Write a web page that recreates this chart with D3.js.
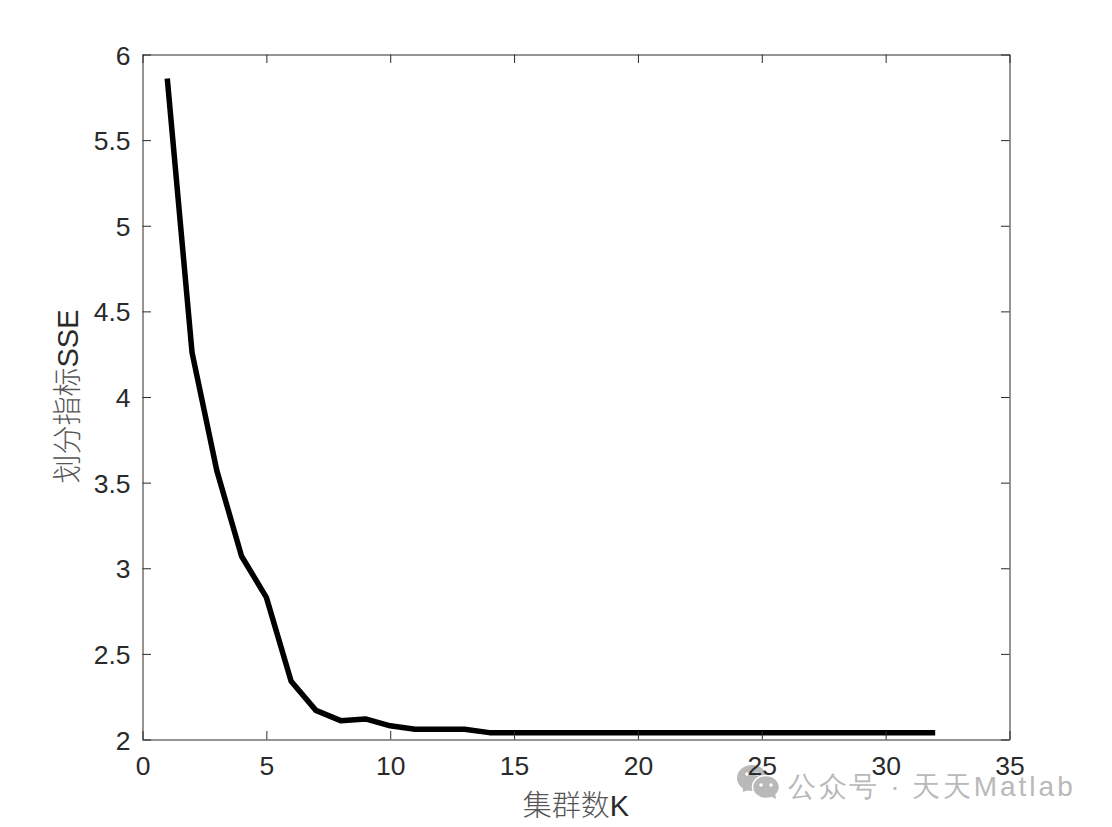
<!DOCTYPE html>
<html><head><meta charset="utf-8">
<script src="https://cdn.jsdelivr.net/npm/d3@7/dist/d3.min.js"></script>
<style>
html,body{margin:0;padding:0;background:#fff;overflow:hidden}
svg{display:block}
text{font-family:"Liberation Sans",Arial,sans-serif}
</style></head><body>
<svg id="c" width="1112" height="827"></svg>
<script>
const kValues = [1,2,3,4,5,6,7,8,9,10,11,12,13,14,15,16,17,18,19,20,21,22,23,24,25,26,27,28,29,30,31,32];
const sseValues = [5.86,4.26,3.57,3.07,2.83,2.34,2.17,2.11,2.12,2.08,2.06,2.06,2.06,2.04,2.04,2.04,2.04,2.04,2.04,2.04,2.04,2.04,2.04,2.04,2.04,2.04,2.04,2.04,2.04,2.04,2.04,2.04];
const xTicks = [0,5,10,15,20,25,30,35];
const yTicks = [2,2.5,3,3.5,4,4.5,5,5.5,6];
const xDomain = [0,35], yDomain = [2,6];
const xTitle = ["集群数","K"], yTitle = ["划分指标","SSE"];
const watermarkHead = "公众号 · 天天", watermarkTail = "Matlab";

const L=142.5,R=1009.5,T=54.5,B=739.5,INK="#2a2a2a",TL=8.5;
const svg=d3.select("#c");
const x=d3.scaleLinear().domain(xDomain).range([L,R]);
const y=d3.scaleLinear().domain(yDomain).range([B,T]);

// watermark (beneath the chart text)
const wm=svg.append("g").attr("fill","#b9b9b9");
const wt=wm.append("text").attr("x",788).attr("y",796).attr("font-size",28)
  .attr("font-family",'"Noto Sans CJK SC","Noto Sans",sans-serif');
wt.append("tspan").attr("letter-spacing",2.6).text(watermarkHead);
wt.append("tspan").attr("letter-spacing",3).text(watermarkTail);
wm.append("ellipse").attr("cx",752).attr("cy",778).attr("rx",15).attr("ry",13);
wm.append("path").attr("d","M743 787 L743 792 L751 789 Z");
wm.append("ellipse").attr("cx",766).attr("cy",787).attr("rx",13.5).attr("ry",11.5).attr("stroke","#fff").attr("stroke-width",1.5);
wm.append("path").attr("d","M770 796 L776 799 L775 792 Z");
[[761,785],[771,785]].forEach(p=>wm.append("circle").attr("cx",p[0]).attr("cy",p[1]).attr("r",1.7).attr("fill","#fff"));
[[747,774],[757,774]].forEach(p=>wm.append("circle").attr("cx",p[0]).attr("cy",p[1]).attr("r",1.8).attr("fill","#fff"));

const line=d3.line().x((d,i)=>x(kValues[i])).y(d=>y(d));
svg.append("path").datum(sseValues).attr("d",line).attr("fill","none")
  .attr("stroke","#000").attr("stroke-width",5.5).attr("stroke-linejoin","round");

function styleAxis(g){
  g.selectAll("path").attr("stroke",INK).attr("stroke-width",1);
  g.selectAll("line").attr("stroke",INK).attr("stroke-width",1);
  g.selectAll("text").attr("fill",INK).attr("font-size",26.5).attr("font-family",'"Liberation Sans",Arial,sans-serif');
}
const fmt=d=>String(d);
svg.append("g").attr("transform",`translate(0,${B})`)
  .call(d3.axisBottom(x).tickValues(xTicks).tickFormat(fmt).tickSize(-TL).tickSizeOuter(0).tickPadding(17)).call(styleAxis);
svg.append("g").attr("transform",`translate(0,${T})`)
  .call(d3.axisTop(x).tickValues(xTicks).tickFormat("").tickSize(-TL).tickSizeOuter(0)).call(styleAxis);
svg.append("g").attr("transform",`translate(${L},0)`)
  .call(d3.axisLeft(y).tickValues(yTicks).tickFormat(fmt).tickSize(-TL).tickSizeOuter(0).tickPadding(12)).call(styleAxis)
  .call(g=>g.selectAll("text").attr("dy","0.36em"));
svg.append("g").attr("transform",`translate(${R},0)`)
  .call(d3.axisRight(y).tickValues(yTicks).tickFormat("").tickSize(-TL).tickSizeOuter(0)).call(styleAxis);

const cjk='"Noto Sans CJK SC","Liberation Sans",sans-serif';
const xt=svg.append("text").attr("x",576).attr("y",816).attr("text-anchor","middle").attr("fill",INK).attr("font-size",29);
xt.append("tspan").attr("font-family",cjk).attr("font-weight",300).attr("fill","#555").text(xTitle[0]);
xt.append("tspan").text(xTitle[1]);
const yt=svg.append("text").attr("transform","translate(78,396.5) rotate(-90)").attr("text-anchor","middle").attr("fill",INK).attr("font-size",29);
yt.append("tspan").attr("font-family",cjk).attr("font-weight",300).attr("fill","#555").text(yTitle[0]);
yt.append("tspan").text(yTitle[1]);
</script></body></html>
